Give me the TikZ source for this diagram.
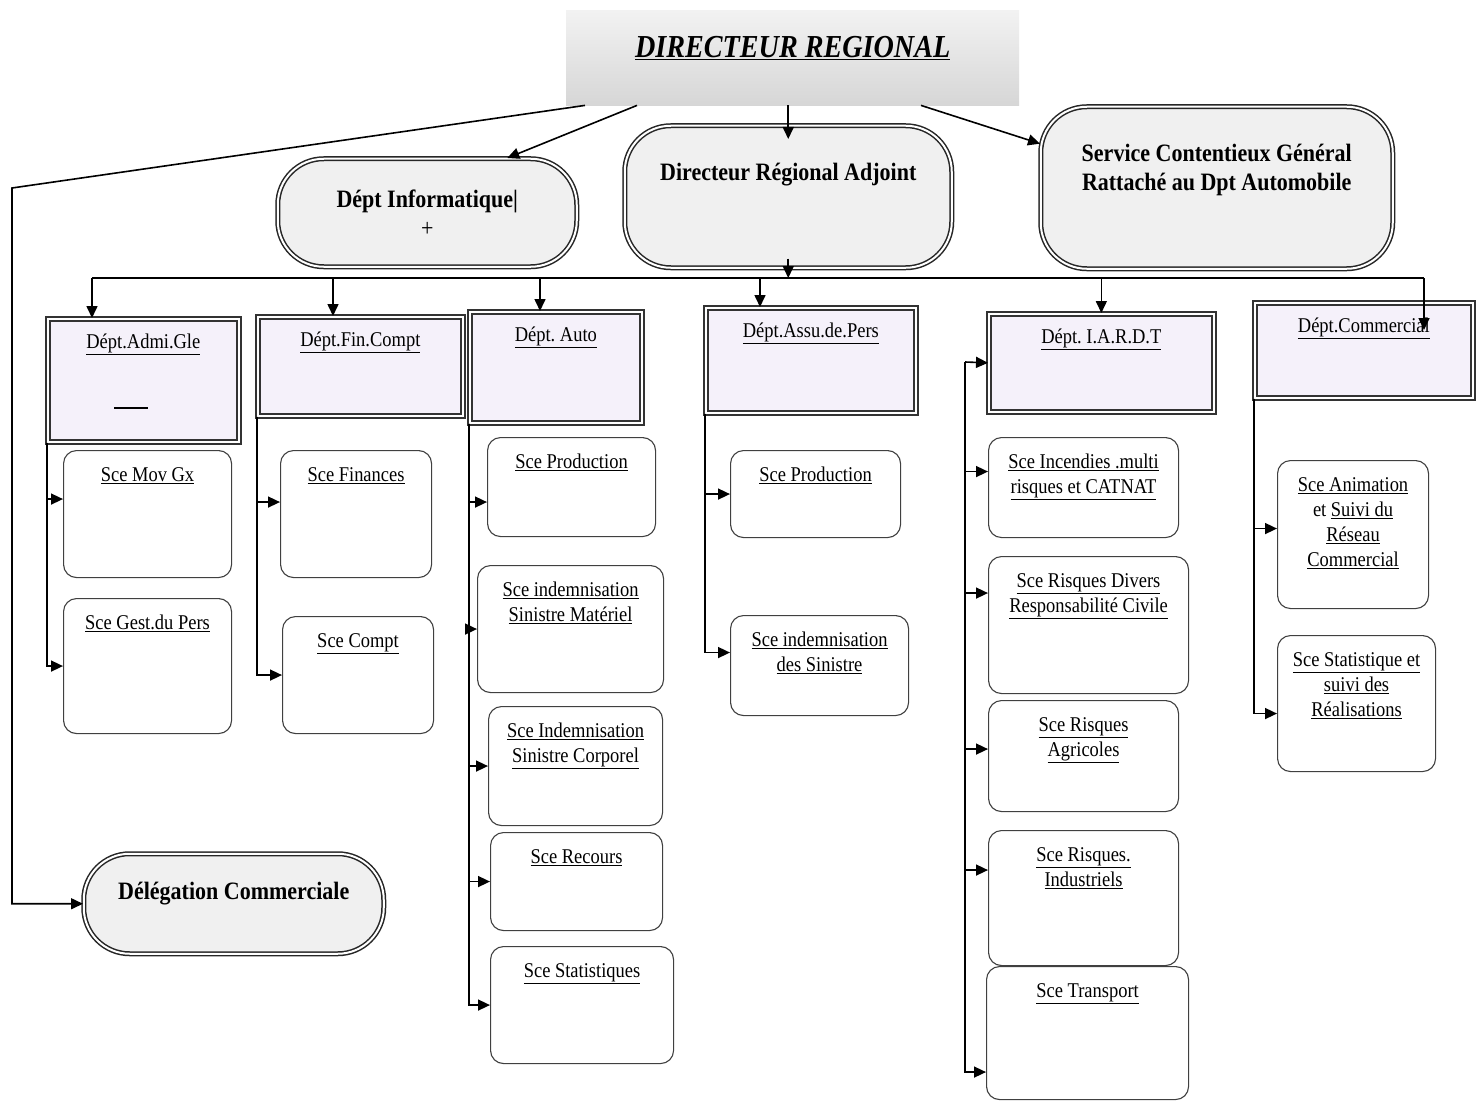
\documentclass[tikz,border=0pt]{standalone}
\usepackage{fontspec}
\setmainfont{Liberation Serif}[FakeStretch=0.88]
\usetikzlibrary{arrows.meta}
\definecolor{lavfill}{RGB}{245,241,250}
\definecolor{pillfill}{RGB}{240,240,240}
\frenchspacing

\begin{document}
\begin{tikzpicture}[x=1pt, y=-1pt,
    every node/.style={inner sep=0pt},
    dirbox/.style={anchor=north west, top color=gray!10, bottom color=gray!32, minimum width=453, minimum height=95},
    pill/.style={draw=black!85, line width=1.5pt, double=white, double distance=2pt, fill=pillfill, rounded corners=46pt, anchor=north west},
    dept/.style={draw=black!80, line width=1.7pt, double=white, double distance=2pt, fill=lavfill, anchor=north west},
    sce/.style={draw=black!75, line width=1.1pt, fill=white, rounded corners=13pt, anchor=north west},
    ptx/.style={anchor=north, yshift=-30pt, align=center, inner sep=2pt, font=\fontsize{25}{29}\selectfont\bfseries},
    st/.style={anchor=north, yshift=-15pt, align=center, inner sep=2pt, font=\fontsize{21}{25}\selectfont},
    a/.style={-{Triangle[length=12pt, width=11pt]}, line width=1.6pt},
    ln/.style={line width=1.6pt}
]
\fill[white] (0,0) rectangle (1477,1102);
\useasboundingbox (0,0) rectangle (1477,1102);

% direction
\node[dirbox, label={[st, yshift=-9pt, font=\fontsize{32}{36}\selectfont\bfseries\itshape]north:\underline{DIRECTEUR REGIONAL}}] (dr) at (566,10) {};
\node[pill, minimum width=299, minimum height=108, label={[ptx]north:Dépt Informatique|\\{\mdseries +}}] (info) at (277,158) {};
\node[pill, minimum width=327, minimum height=142, label={[ptx, yshift=-6pt]north:Directeur Régional Adjoint}] (adj) at (624,125) {};
\node[pill, minimum width=352, minimum height=162, label={[ptx, yshift=-6pt]north:Service Contentieux Général\\Rattaché au Dpt Automobile}] (cont) at (1040,106) {};
\node[pill, minimum width=300, minimum height=100, label={[ptx, yshift=3pt]north:Délégation Commerciale}] (deleg) at (83,853) {};

% departements
\node[dept, minimum width=191, minimum height=123, label={[st, yshift=1pt]north:\underline{Dépt.Admi.Gle}}] (admi) at (47,318) {};
\node[dept, minimum width=205, minimum height=99, label={[st, yshift=1pt]north:\underline{Dépt.Fin.Compt}}] (fin) at (257,316) {};
\node[dept, minimum width=172, minimum height=111, label={[st, yshift=1pt]north:\underline{Dépt. Auto}}] (auto) at (469,311) {};
\node[dept, minimum width=210, minimum height=105, label={[st, yshift=1pt]north:\underline{Dépt.Assu.de.Pers}}] (assu) at (705,307) {};
\node[dept, minimum width=225, minimum height=98, label={[st, yshift=1pt]north:\underline{Dépt. I.A.R.D.T}}] (iardt) at (988,313) {};
\node[dept, minimum width=218, minimum height=95, label={[st, yshift=1pt]north:\underline{Dépt.Commercial}}] (comm) at (1254,302) {};
\draw[line width=1.2pt] ([xshift=67pt, yshift=-90pt]admi.north west) -- ++(34,0);

% services
\node[sce, minimum width=168, minimum height=127, label={[st]north:\underline{Sce Mov Gx}}] (mov) at (63,450) {};
\node[sce, minimum width=168, minimum height=135, label={[st]north:\underline{Sce Gest.du Pers}}] (gest) at (63,598) {};
\node[sce, minimum width=151, minimum height=127, label={[st]north:\underline{Sce Finances}}] (finan) at (280,450) {};
\node[sce, minimum width=151, minimum height=117, label={[st]north:\underline{Sce Compt}}] (compt) at (282,616) {};
\node[sce, minimum width=168, minimum height=99, label={[st]north:\underline{Sce Production}}] (prodA) at (487,437) {};
\node[sce, minimum width=186, minimum height=127, label={[st]north:\underline{Sce indemnisation}\\\underline{Sinistre Matériel}}] (mat) at (477,565) {};
\node[sce, minimum width=174, minimum height=119, label={[st]north:\underline{Sce Indemnisation}\\\underline{Sinistre Corporel}}] (corp) at (488,706) {};
\node[sce, minimum width=172, minimum height=98, label={[st]north:\underline{Sce Recours}}] (recours) at (490,832) {};
\node[sce, minimum width=183, minimum height=117, label={[st]north:\underline{Sce Statistiques}}] (statA) at (490,946) {};
\node[sce, minimum width=170, minimum height=87, label={[st]north:\underline{Sce Production}}] (prodP) at (730,450) {};
\node[sce, minimum width=178, minimum height=100, label={[st]north:\underline{Sce indemnisation}\\\underline{des Sinistre}}] (sinP) at (730,615) {};
\node[sce, minimum width=190, minimum height=100, label={[st]north:\underline{Sce Incendies .multi}\\\underline{risques et CATNAT}}] (incend) at (988,437) {};
\node[sce, minimum width=200, minimum height=137, label={[st]north:\underline{Sce Risques Divers}\\\underline{Responsabilité Civile}}] (divers) at (988,556) {};
\node[sce, minimum width=190, minimum height=111, label={[st]north:\underline{Sce Risques}\\\underline{Agricoles}}] (agri) at (988,700) {};
\node[sce, minimum width=190, minimum height=135, label={[st]north:\underline{Sce Risques.}\\\underline{Industriels}}] (indus) at (988,830) {};
\node[sce, minimum width=202, minimum height=133, label={[st]north:\underline{Sce Transport}}] (transp) at (986,966) {};
\node[sce, minimum width=151, minimum height=148, label={[st]north:\underline{Sce Animation}\\et \underline{Suivi du}\\\underline{Réseau}\\\underline{Commercial}}] (anim) at (1277,460) {};
\node[sce, minimum width=158, minimum height=136, label={[st]north:\underline{Sce Statistique et}\\\underline{suivi des}\\\underline{Réalisations}}] (realis) at (1277,635) {};

% liaisons
\coordinate (lbend) at (12,188);
\coordinate (busL) at (92,278);
\coordinate (busR) at (1424,278);
\coordinate (itop) at (965,362);
\draw[a] ([xshift=19pt]dr.south west) -- (lbend) |- (deleg.west);
\draw[a] ([xshift=71pt]dr.south west) -- ([xshift=80pt]info.north);
\draw[a] (dr.south -| adj.north) -- ([yshift=-14pt]adj.north);
\draw[a] ([xshift=355pt]dr.south west) -- (cont.166);
\draw[a] ([yshift=10pt]adj.south) -- (adj.south |- busL);
\draw[ln] (busL) -- (busR);
\draw[a] (busL) -- ([xshift=45pt]admi.north west);
\draw[a] ([xshift=76pt]fin.north west |- busL) -- ([xshift=76pt]fin.north west);
\draw[a] ([xshift=71pt]auto.north west |- busL) -- ([xshift=71pt]auto.north west);
\draw[a] ([xshift=55pt]assu.north west |- busL) -- ([xshift=55pt]assu.north west);
\draw[a] (iardt.north |- busL) -- (iardt.north);
\draw[a] (busR) -- ([xshift=170pt, yshift=-28pt]comm.north west);

\draw[a] (admi.south west) |- ([yshift=15pt]mov.west);
\draw[a] (admi.south west) |- (gest.west);
\draw[a] (fin.south west) |- ([yshift=12pt]finan.west);
\draw[a] (fin.south west) |- (compt.west);
\draw[a] (auto.south west) |- ([yshift=-15pt]prodA.west);
\draw[a] (auto.south west) |- (mat.west);
\draw[a] (auto.south west) |- (corp.west);
\draw[a] (auto.south west) |- (recours.west);
\draw[a] (auto.south west) |- (statA.west);
\draw[a] (assu.south west) |- (prodP.west);
\draw[a] (assu.south west) |- ([yshift=13pt]sinP.west);
\draw[a] (itop) -- (iardt.west);
\draw[a] (itop) |- ([yshift=16pt]incend.west);
\draw[a] (itop) |- ([yshift=32pt]divers.west);
\draw[a] (itop) |- ([yshift=7pt]agri.west);
\draw[a] (itop) |- ([yshift=28pt]indus.west);
\draw[a] (itop) |- ([yshift=-39pt]transp.west);
\draw[a] (comm.south west) |- ([yshift=6pt]anim.west);
\draw[a] (comm.south west) |- ([yshift=-10pt]realis.west);
\end{tikzpicture}
\end{document}
